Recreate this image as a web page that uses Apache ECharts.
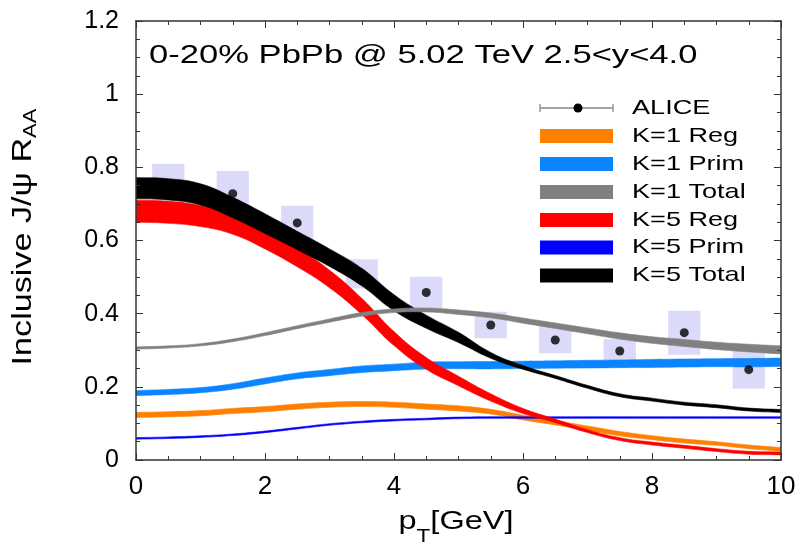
<!DOCTYPE html>
<html>
<head>
<meta charset="utf-8">
<script src="https://cdn.jsdelivr.net/npm/echarts@6/dist/echarts.min.js"></script>
<style>
html,body{margin:0;padding:0;background:#fff;}
#chart{width:800px;height:547px;}
</style>
</head>
<body>
<div id="chart"></div>
<script>
// ---------------- data ----------------
const ptGrid = [0, 0.5, 1, 1.5, 2, 2.5, 3, 3.5, 4, 4.5, 5, 5.5, 6, 6.5, 7, 7.5, 8, 8.5, 9, 9.5, 10];

// ALICE data
const alicePt   = [0.5, 1.5, 2.5, 3.5, 4.5, 5.5, 6.5, 7.5, 8.5, 9.5];
const aliceRaa  = [0.755, 0.728, 0.648, 0.509, 0.458, 0.369, 0.328, 0.298, 0.348, 0.247];
const aliceSyst = [0.055, 0.062, 0.047, 0.040, 0.043, 0.036, 0.036, 0.033, 0.060, 0.052];

// Model bands: centre values and half widths on ptGrid
const k1RegMid   = [0.123, 0.125, 0.128, 0.134, 0.139, 0.146, 0.151, 0.153, 0.151, 0.146, 0.141, 0.132, 0.116, 0.102, 0.087, 0.072, 0.061, 0.052, 0.045, 0.036, 0.029];
const k1RegHalf  = [0.007, 0.007, 0.007, 0.007, 0.007, 0.007, 0.007, 0.007, 0.007, 0.007, 0.007, 0.0065, 0.0065, 0.006, 0.006, 0.006, 0.0055, 0.0055, 0.005, 0.005, 0.005];

const k1PrimMid  = [0.183, 0.186, 0.191, 0.201, 0.216, 0.230, 0.239, 0.248, 0.253, 0.258, 0.259, 0.259, 0.260, 0.261, 0.262, 0.263, 0.264, 0.265, 0.266, 0.266, 0.267];
const k1PrimHalf = [0.007, 0.007, 0.007, 0.0075, 0.008, 0.008, 0.0085, 0.009, 0.009, 0.0095, 0.0095, 0.010, 0.010, 0.010, 0.0105, 0.0105, 0.011, 0.011, 0.011, 0.0115, 0.0115];

const k1TotMid   = [0.306, 0.309, 0.315, 0.327, 0.344, 0.363, 0.381, 0.398, 0.408, 0.410, 0.404, 0.395, 0.381, 0.367, 0.353, 0.339, 0.328, 0.320, 0.312, 0.306, 0.301];
const k1TotHalf  = [0.003, 0.003, 0.003, 0.0035, 0.004, 0.004, 0.0045, 0.005, 0.005, 0.0055, 0.006, 0.0065, 0.007, 0.0075, 0.008, 0.0085, 0.009, 0.0095, 0.010, 0.0105, 0.011];

const k5RegMid   = [0.680, 0.677, 0.667, 0.646, 0.605, 0.554, 0.495, 0.420, 0.332, 0.264, 0.216, 0.171, 0.134, 0.107, 0.079, 0.057, 0.045, 0.036, 0.027, 0.020, 0.018];
const k5RegHalf  = [0.030, 0.030, 0.029, 0.029, 0.028, 0.026, 0.024, 0.022, 0.019, 0.016, 0.013, 0.010, 0.007, 0.005, 0.004, 0.004, 0.004, 0.004, 0.004, 0.004, 0.004];

const k5PrimMid  = [0.059, 0.061, 0.064, 0.069, 0.077, 0.087, 0.097, 0.104, 0.109, 0.112, 0.115, 0.116, 0.116, 0.116, 0.116, 0.116, 0.116, 0.116, 0.116, 0.116, 0.116];
const k5PrimHalf = [0.0022, 0.0022, 0.0022, 0.0022, 0.0022, 0.0022, 0.0022, 0.0022, 0.0022, 0.0022, 0.0022, 0.0022, 0.0022, 0.0022, 0.0022, 0.0022, 0.0022, 0.0022, 0.0022, 0.0022, 0.0022];

const k5TotMid   = [0.743, 0.740, 0.726, 0.690, 0.646, 0.600, 0.553, 0.500, 0.430, 0.378, 0.335, 0.286, 0.253, 0.227, 0.200, 0.177, 0.165, 0.154, 0.147, 0.138, 0.134];
const k5TotHalf  = [0.029, 0.029, 0.029, 0.028, 0.027, 0.025, 0.024, 0.024, 0.022, 0.018, 0.014, 0.008, 0.005, 0.004, 0.004, 0.004, 0.004, 0.004, 0.004, 0.004, 0.004];

// Axis ticks
const xTicks = [0, 2, 4, 6, 8, 10];
const yTicks = [0, 0.2, 0.4, 0.6, 0.8, 1, 1.2];

// Text
const titleText = '0-20% PbPb @ 5.02 TeV 2.5<y<4.0';
const legendLabels = ['ALICE', 'K=1 Reg', 'K=1 Prim', 'K=1 Total', 'K=5 Reg', 'K=5 Prim', 'K=5 Total'];

// ---------------- styling ----------------
const F = 'Liberation Sans, Arial, sans-serif';
const C = {
  k1Reg: '#ff8000', k1Prim: '#0a84ff', k1Tot: '#808080',
  k5Reg: '#ff0000', k5Prim: '#0000ff', k5Tot: '#000000',
  box: '#dcdaf9', frame: '#333333'
};
const boxHalfWidth = 0.25;

function bandSeries(name, mid, half, color, z) {
  return {
    type: 'custom', name: name, z: z, clip: true, silent: true,
    coordinateSystem: 'cartesian2d',
    data: ptGrid.map((x, i) => [x, mid[i] - half[i], mid[i] + half[i]]),
    encode: { x: 0, y: [1, 2] },
    renderItem: function (params, api) {
      if (params.dataIndexInside !== 0) return null;
      const n = params.dataInsideLength;
      const top = [], bot = [];
      for (let i = 0; i < n; i++) {
        const x = api.value(0, i);
        top.push(api.coord([x, api.value(2, i)]));
        bot.unshift(api.coord([x, api.value(1, i)]));
      }
      // repeat end vertices so the smoothing does not overshoot at the band ends
      const pts = [top[0]].concat(top, [top[n - 1], bot[0]], bot, [bot[n - 1]]);
      return {
        type: 'polygon',
        shape: { points: pts, smooth: 0.45 },
        style: { fill: color, stroke: color, lineWidth: 0.6 }
      };
    }
  };
}

const series = [
  {
    type: 'custom', name: 'ALICE syst', z: 1, silent: true,
    coordinateSystem: 'cartesian2d',
    data: alicePt.map((x, i) => [x, aliceRaa[i], aliceSyst[i]]),
    encode: { x: 0, y: 1 },
    renderItem: function (params, api) {
      const x = api.value(0), y = api.value(1), s = api.value(2);
      const p1 = api.coord([x - boxHalfWidth, y + s]);
      const p2 = api.coord([x + boxHalfWidth, y - s]);
      return { type: 'rect', shape: { x: p1[0], y: p1[1], width: p2[0] - p1[0], height: p2[1] - p1[1] }, style: { fill: C.box } };
    }
  },
  bandSeries('K=1 Prim', k1PrimMid, k1PrimHalf, C.k1Prim, 2),
  bandSeries('K=1 Reg', k1RegMid, k1RegHalf, C.k1Reg, 3),
  bandSeries('K=5 Prim', k5PrimMid, k5PrimHalf, C.k5Prim, 4),
  bandSeries('K=5 Reg', k5RegMid, k5RegHalf, C.k5Reg, 5),
  bandSeries('K=5 Total', k5TotMid, k5TotHalf, C.k5Tot, 6),
  bandSeries('K=1 Total', k1TotMid, k1TotHalf, C.k1Tot, 7),
  {
    type: 'scatter', name: 'ALICE', z: 10, silent: true,
    data: alicePt.map((x, i) => [x, aliceRaa[i]]),
    symbol: 'circle', symbolSize: 9,
    itemStyle: { color: '#000' }
  }
];

// legend (drawn as graphic elements)
const legendX = 540, legendW = 73, legendH = 14, legendTextX = 632;
const legendRowY = [108, 136, 164, 192, 220, 247.5, 275.5];
const legendColors = [null, C.k1Reg, C.k1Prim, C.k1Tot, C.k5Reg, C.k5Prim, C.k5Tot];
const graphics = [];
legendLabels.forEach((lab, i) => {
  const y = legendRowY[i];
  if (i === 0) {
    graphics.push({ type: 'line', shape: { x1: legendX, y1: y, x2: legendX + legendW, y2: y }, style: { stroke: '#888', lineWidth: 1.3 } });
    graphics.push({ type: 'line', shape: { x1: legendX, y1: y - 4, x2: legendX, y2: y + 4 }, style: { stroke: '#888', lineWidth: 1.3 } });
    graphics.push({ type: 'line', shape: { x1: legendX + legendW, y1: y - 4, x2: legendX + legendW, y2: y + 4 }, style: { stroke: '#888', lineWidth: 1.3 } });
    graphics.push({ type: 'circle', shape: { cx: legendX + 38, cy: y, r: 4.5 }, style: { fill: '#000' } });
  } else {
    graphics.push({ type: 'rect', shape: { x: legendX, y: y - legendH / 2, width: legendW, height: legendH }, style: { fill: legendColors[i] } });
  }
  graphics.push({
    type: 'text', x: legendTextX, y: y, scaleX: 1.29,
    style: { text: lab, fontSize: 21, fontFamily: F, fill: '#000', verticalAlign: 'middle', textVerticalAlign: 'middle' }
  });
});

// title
graphics.push({
  type: 'text', x: 149, y: 56, scaleX: 1.33,
  style: { text: titleText, fontSize: 26, fontFamily: F, fill: '#000', verticalAlign: 'middle', textVerticalAlign: 'middle' }
});
// y axis title
graphics.push({
  type: 'text', x: 23, y: 237, rotation: Math.PI / 2, scaleX: 1.22,
  style: {
    text: '{a|Inclusive J/ψ R}{s|AA}',
    fill: '#000', align: 'center', textAlign: 'center', verticalAlign: 'middle', textVerticalAlign: 'middle',
    rich: {
      a: { fontSize: 28, fontFamily: F, fill: '#000' },
      s: { fontSize: 18, fontFamily: F, fill: '#000', padding: [17, 0, 0, 0] }
    }
  }
});
// x axis title
graphics.push({
  type: 'text', x: 456, y: 522, scaleX: 1.25,
  style: {
    text: '{a|p}{s|T}{a|[GeV]}',
    fill: '#000', align: 'center', textAlign: 'center', verticalAlign: 'middle', textVerticalAlign: 'middle',
    rich: {
      a: { fontSize: 26, fontFamily: F, fill: '#000' },
      s: { fontSize: 18, fontFamily: F, fill: '#000', padding: [31, 0, 0, 0] }
    }
  }
});

const axisLineStyle = { color: C.frame, width: 1.5 };
function xAxisDef(pos, showLabel) {
  return {
    type: 'value', position: pos, min: xTicks[0], max: xTicks[xTicks.length - 1], interval: xTicks[1] - xTicks[0],
    z: 20,
    axisLine: { show: true, onZero: false, lineStyle: axisLineStyle },
    axisTick: { show: true, inside: true, length: 7, lineStyle: { color: C.frame, width: 1 } },
    minorTick: { show: true, splitNumber: 4, length: 4, lineStyle: { color: C.frame, width: 1 } },
    splitLine: { show: false }, minorSplitLine: { show: false },
    axisLabel: { show: showLabel, fontSize: 26, fontFamily: F, color: '#000', margin: 14 }
  };
}
function yAxisDef(pos, showLabel) {
  return {
    type: 'value', position: pos, min: yTicks[0], max: yTicks[yTicks.length - 1], interval: 0.2,
    z: 20,
    axisLine: { show: true, onZero: false, lineStyle: axisLineStyle },
    axisTick: { show: true, inside: true, length: 7, lineStyle: { color: C.frame, width: 1 } },
    minorTick: { show: true, splitNumber: 4, length: 4, lineStyle: { color: C.frame, width: 1 } },
    splitLine: { show: false }, minorSplitLine: { show: false },
    axisLabel: { show: showLabel, fontSize: 25, fontFamily: F, color: '#000', margin: 17,
      formatter: function (v) { return String(Math.round(v * 10) / 10); } }
  };
}

const chart = echarts.init(document.getElementById('chart'), null, { renderer: 'canvas' });
chart.setOption({
  animation: false,
  backgroundColor: '#fff',
  grid: { left: 136, right: 19, top: 21, bottom: 87, containLabel: false, outerBoundsMode: 'none' },
  xAxis: [xAxisDef('bottom', true), xAxisDef('top', false)],
  yAxis: [yAxisDef('left', true), yAxisDef('right', false)],
  series: series,
  graphic: graphics
});
</script>
</body>
</html>
